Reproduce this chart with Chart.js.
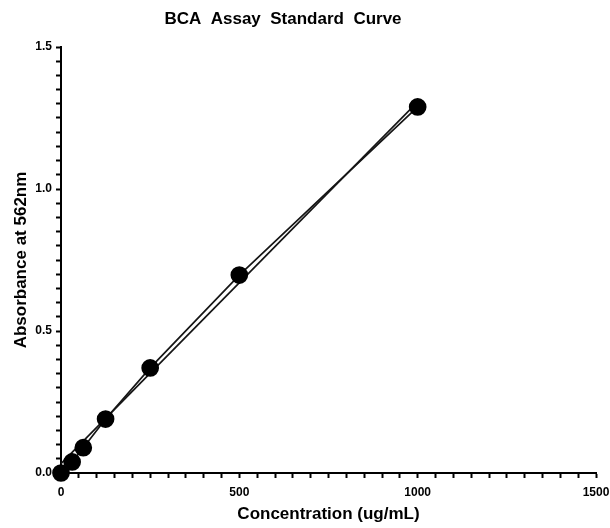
<!DOCTYPE html>
<html>
<head>
<meta charset="utf-8">
<script src="https://cdn.jsdelivr.net/npm/chart.js@4/dist/chart.umd.min.js"></script>
<style>
  html, body { margin: 0; padding: 0; background: #fff; }
  #wrap { width: 610px; height: 528px; position: relative; }
</style>
</head>
<body>
<div id="wrap"><canvas id="c" width="610" height="528"></canvas></div>
<script>
// ---- data ----
const concentrations = [0, 31.25, 62.5, 125, 250, 500, 1000];
const absorbances = [0.0, 0.039, 0.089, 0.190, 0.370, 0.697, 1.289];
const fitX = [0, 1000];
const fitY = [0.033, 1.307];
const xTickLabels = [0, 500, 1000, 1500];
const yTickLabels = [0.0, 0.5, 1.0, 1.5];

const chartTitle = 'BCA  Assay  Standard  Curve';
const xTitle = 'Concentration (ug/mL)';
const yTitle = 'Absorbance at 562nm';

const FONT = '"Liberation Sans", Arial, sans-serif';

const titlePlugin = {
  id: 'customTitle',
  afterDraw(chart) {
    const ctx = chart.ctx;
    ctx.save();
    ctx.font = 'bold 17px ' + FONT;
    ctx.fillStyle = '#000';
    ctx.textAlign = 'center';
    ctx.textBaseline = 'alphabetic';
    ctx.fillText(chartTitle, 283, 24);
    ctx.restore();
  }
};

const isMajor = (v, list) => list.some(t => Math.abs(t - v) < 1e-6);

new Chart(document.getElementById('c'), {
  type: 'scatter',
  data: {
    datasets: [
      {
        label: 'Standards',
        data: concentrations.map((x, i) => ({ x, y: absorbances[i] })),
        showLine: true,
        borderColor: '#151515',
        borderWidth: 1.7,
        backgroundColor: '#000',
        pointBackgroundColor: '#000',
        pointBorderColor: '#000',
        pointRadius: 8,
        pointHoverRadius: 8,
        clip: false
      },
      {
        label: 'Fit',
        data: fitX.map((x, i) => ({ x, y: fitY[i] })),
        showLine: true,
        borderColor: '#151515',
        borderWidth: 1.7,
        pointRadius: 0,
        pointHoverRadius: 0,
        clip: false
      }
    ]
  },
  options: {
    responsive: false,
    animation: false,
    layout: { padding: { left: 0, right: 0, top: 47, bottom: 0 } },
    plugins: {
      legend: { display: false },
      title: { display: false },
      tooltip: { enabled: false }
    },
    scales: {
      x: {
        type: 'linear',
        min: 0,
        max: 1500,
        afterFit(scale) { scale.height = 55; scale.paddingRight = 14; },
        ticks: {
          stepSize: 50,
          autoSkip: false,
          maxRotation: 0,
          padding: 7,
          color: '#000',
          font: { family: FONT, size: 12, weight: 'bold' },
          callback: (v) => isMajor(v, xTickLabels) ? String(v) : ''
        },
        grid: {
          drawOnChartArea: false,
          drawTicks: true,
          tickLength: 5,
          tickWidth: 2,
          tickColor: '#000'
        },
        border: { display: true, color: '#000', width: 2 },
        title: {
          display: true,
          text: xTitle,
          color: '#000',
          font: { family: FONT, size: 17, weight: 'bold' },
          padding: { top: 0, bottom: 3 }
        }
      },
      y: {
        type: 'linear',
        min: 0,
        max: 1.5,
        afterFit(scale) { scale.width = 61; },
        ticks: {
          stepSize: 0.05,
          autoSkip: false,
          padding: 4,
          color: '#000',
          font: { family: FONT, size: 12, weight: 'bold' },
          callback: (v) => isMajor(v, yTickLabels) ? v.toFixed(1) : ''
        },
        grid: {
          drawOnChartArea: false,
          drawTicks: true,
          tickLength: 5,
          tickWidth: 2,
          tickColor: '#000'
        },
        border: { display: true, color: '#000', width: 2 },
        title: {
          display: true,
          text: yTitle,
          color: '#000',
          font: { family: FONT, size: 17, weight: 'bold' },
          padding: { top: 11, bottom: 0 }
        }
      }
    }
  },
  plugins: [titlePlugin]
});
</script>
</body>
</html>
